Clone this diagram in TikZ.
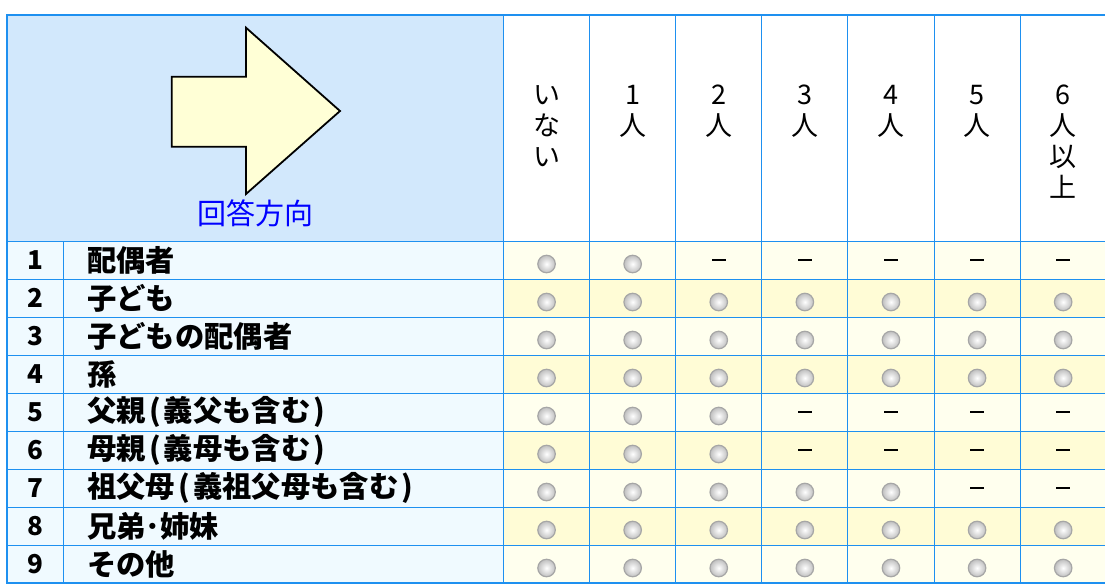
\documentclass[tikz,border=0pt]{standalone}
\usepackage{fontspec}
\newfontfamily\jp{Noto Sans CJK JP}
\definecolor{gridc}{RGB}{30,144,240}
\definecolor{hdrblue}{RGB}{210,232,252}
\definecolor{cellcyan}{RGB}{240,250,255}
\definecolor{yelA}{RGB}{255,255,238}
\definecolor{yelB}{RGB}{255,252,214}
\definecolor{arrowfill}{RGB}{255,255,214}
\definecolor{txtblue}{RGB}{0,0,255}
\newcommand\lp{\kern3.5pt(\kern3pt}
\newcommand\rp{\kern3pt)\kern3.5pt}
\tikzset{
  gridline/.style={draw=gridc, line width=1pt},
  outerline/.style={draw=gridc, line width=2pt},
  numtext/.style={inner sep=0pt, font=\jp\bfseries\fontsize{26}{30}\selectfont},
  labtext/.style={inner sep=0pt, anchor=west, font=\jp\bfseries\fontsize{29.3}{33}\selectfont},
  hdrtext/.style={inner sep=0pt, anchor=north, align=center, font=\jp\fontsize{27}{31}\selectfont},
  radio/.style={circle, minimum size=17.5pt, inner sep=0pt, draw=black!35, line width=1.2pt, inner color=white, outer color=black!25},
  dashmark/.style={rectangle, minimum width=14pt, minimum height=2.4pt, inner sep=0pt, fill=black},
  dirtext/.style={inner sep=0pt, text=txtblue, font=\jp\fontsize{29}{32}\selectfont},
  bigarrow/.style={draw=black, line width=1.8pt, fill=arrowfill, line join=miter}
}
\begin{document}
\begin{tikzpicture}[x=1pt,y=-1pt]
\useasboundingbox (0,0) rectangle (1105,584);
\fill[white] (0,0) rectangle (1105,584);
\begin{scope}
\clip (0,0) rectangle (1105,584);
% header background
\fill[hdrblue] (7,15) rectangle (503.5,241);
% row backgrounds
\foreach \r in {1,...,9} {
  \pgfmathsetmacro\yt{241+38*(\r-1)}
  \fill[cellcyan] (7,\yt) rectangle (503.5,\yt+38);
  \ifodd\r
    \fill[yelA] (503.5,\yt) rectangle (1110,\yt+38);
  \else
    \fill[yelB] (503.5,\yt) rectangle (1110,\yt+38);
  \fi
}
% grid lines
\foreach \k in {0,...,8} {
  \draw[gridline] (7,241+38*\k) -- (1110,241+38*\k);
}
\draw[gridline] (63.5,241) -- (63.5,583);
\foreach \c in {0,...,7} {
  \draw[gridline] (503.5+86.1*\c,15) -- (503.5+86.1*\c,583);
}
\draw[outerline] (1110,15) -- (7,15) -- (7,583) -- (1110,583);
% arrow
\draw[bigarrow] (171.7,76.7) -- (246,76.7) -- (246,27.7) -- (340,111) -- (246,194) -- (246,146.7) -- (171.7,146.7) -- cycle;
\node[dirtext] (dir) at (255.5,213) {回答方向};
% header columns
\node[hdrtext] (h1) at (546.5,85) {い\\な\\い};
\node[hdrtext] (h2) at (632.6,85) {1\\人};
\node[hdrtext] (h3) at (718.7,85) {2\\人};
\node[hdrtext] (h4) at (804.8,85) {3\\人};
\node[hdrtext] (h5) at (890.9,85) {4\\人};
\node[hdrtext] (h6) at (977.0,85) {5\\人};
\node[hdrtext] (h7) at (1063.1,85) {6\\人\\以\\上};
% row numbers and labels
\foreach \r/\lab in {1/配偶者, 2/子ども, 3/子どもの配偶者, 4/孫, 5/父親\lp 義父も含む\rp, 6/母親\lp 義母も含む\rp, 7/祖父母\lp 義祖父母も含む\rp, 8/兄弟･姉妹, 9/その他} {
  \pgfmathsetmacro\yc{241+38*(\r-1)+19}
  \node[numtext] (n\r) at (35.5,\yc) {\r};
  \node[labtext] (l\r) at (87,\yc) {\lab};
}
% options: r = radio, d = dash
\foreach \r/\pat in {1/{r,r,d,d,d,d,d}, 2/{r,r,r,r,r,r,r}, 3/{r,r,r,r,r,r,r}, 4/{r,r,r,r,r,r,r}, 5/{r,r,r,d,d,d,d}, 6/{r,r,r,d,d,d,d}, 7/{r,r,r,r,r,d,d}, 8/{r,r,r,r,r,r,r}, 9/{r,r,r,r,r,r,r}} {
  \pgfmathsetmacro\yc{241+38*(\r-1)+19}
  \foreach \t [count=\c] in \pat {
    \pgfmathsetmacro\xc{503.5+86.1*(\c-1)+43.05}
    \if r\t
      \node[radio] (o\r-\c) at (\xc,\yc+4) {};
    \else
      \node[dashmark] (o\r-\c) at (\xc,\yc) {};
    \fi
  }
}
\end{scope}
\end{tikzpicture}
\end{document}
